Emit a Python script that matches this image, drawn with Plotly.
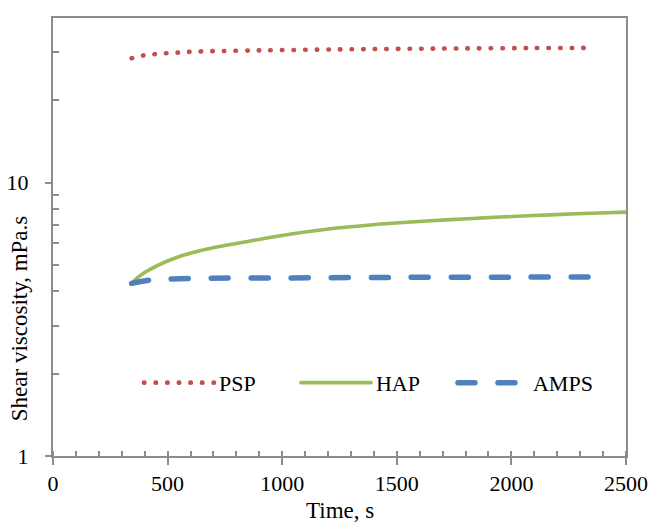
import plotly.graph_objects as go

# Data
psp_time = [343, 395, 446, 498, 549, 600, 903, 1252, 1514, 1776, 2086, 2360]
psp_visc = [28.5, 29.2, 29.5, 29.75, 29.9, 30.1, 30.45, 30.7, 30.85, 30.95, 31.05, 31.1]

hap_time = [343, 393, 539, 684, 830, 946, 1092, 1238, 1383, 1529, 1733, 1878, 2024, 2169, 2315, 2500]
hap_visc = [4.29, 4.65, 5.32, 5.74, 6.05, 6.30, 6.58, 6.82, 7.00, 7.15, 7.32, 7.43, 7.53, 7.62, 7.71, 7.80]

amps_time = [343, 426, 600, 1000, 1500, 2000, 2365]
amps_visc = [4.28, 4.40, 4.46, 4.48, 4.50, 4.51, 4.52]

x_ticks = [0, 500, 1000, 1500, 2000, 2500]
y_ticks = [1, 10]
y_minor = [2, 3, 4, 5, 6, 7, 8, 9, 20, 30]

FONT = "Liberation Serif"
AXIS_COLOR = "#8c8c8c"

fig = go.Figure()
fig.add_trace(go.Scatter(x=psp_time, y=psp_visc, name="PSP", mode="lines",
                         line=dict(color="#C0504D", width=4.6, dash="0.5px,11.1px", shape="spline")))
fig.add_trace(go.Scatter(x=hap_time, y=hap_visc, name="HAP", mode="lines",
                         line=dict(color="#9BBB59", width=3.6, shape="spline")))
fig.add_trace(go.Scatter(x=amps_time, y=amps_visc, name="AMPS", mode="lines",
                         line=dict(color="#4F81BD", width=5.5, dash="17px,23px", shape="spline")))

fig.update_layout(
    width=652, height=524,
    margin=dict(l=53, r=26, t=18, b=68, autoexpand=False),
    paper_bgcolor="white", plot_bgcolor="white",
    font=dict(family=FONT, size=22, color="black"),
    showlegend=True,
    legend=dict(orientation="h", x=0.15, y=0.167, xanchor="left", yanchor="middle",
                bgcolor="rgba(0,0,0,0)", font=dict(family=FONT, size=22),
                itemwidth=70, entrywidth=72, entrywidthmode="pixels"),
    xaxis=dict(range=[0, 2500], tickvals=x_ticks, ticktext=[str(v) for v in x_ticks],
               automargin=False,
               showgrid=False, zeroline=False, showline=True, linecolor=AXIS_COLOR, linewidth=2,
               mirror=True, ticks="outside", ticklen=7, tickwidth=2, tickcolor=AXIS_COLOR,
               tickfont=dict(family=FONT, size=22),
               minor=dict(dtick=100, ticks="inside", ticklen=5, tickwidth=2, tickcolor=AXIS_COLOR)),
    yaxis=dict(type="log", range=[0, 1.60206], tickvals=y_ticks, ticktext=[str(v) for v in y_ticks],
               automargin=False,
               showgrid=False, zeroline=False, showline=True, linecolor=AXIS_COLOR, linewidth=2,
               mirror=True, ticks="outside", ticklen=6, tickwidth=2, tickcolor=AXIS_COLOR,
               tickfont=dict(family=FONT, size=22), ticklabelstandoff=12,
               minor=dict(tickmode="array", tickvals=y_minor, ticks="inside", ticklen=6,
                          tickwidth=2, tickcolor=AXIS_COLOR)),
    annotations=[
        dict(text="Shear viscosity, mPa.s", xref="paper", yref="paper", x=-0.059, y=0.315,
             xanchor="center", yanchor="middle", textangle=-90, showarrow=False,
             font=dict(family=FONT, size=23)),
        dict(text="Time, s", xref="paper", yref="paper", x=0.5, y=-0.124,
             xanchor="center", yanchor="middle", showarrow=False,
             font=dict(family=FONT, size=23)),
    ],
)

post = """
var gd = document.getElementById('{plot_id}');
function rc(){ gd.querySelectorAll('path.js-line').forEach(function(p){ p.style.strokeLinecap='round'; }); }
rc();
if (gd.on) { gd.on('plotly_afterplot', rc); }
setTimeout(rc, 30);
"""

fig.write_html("out.html", post_script=post)
